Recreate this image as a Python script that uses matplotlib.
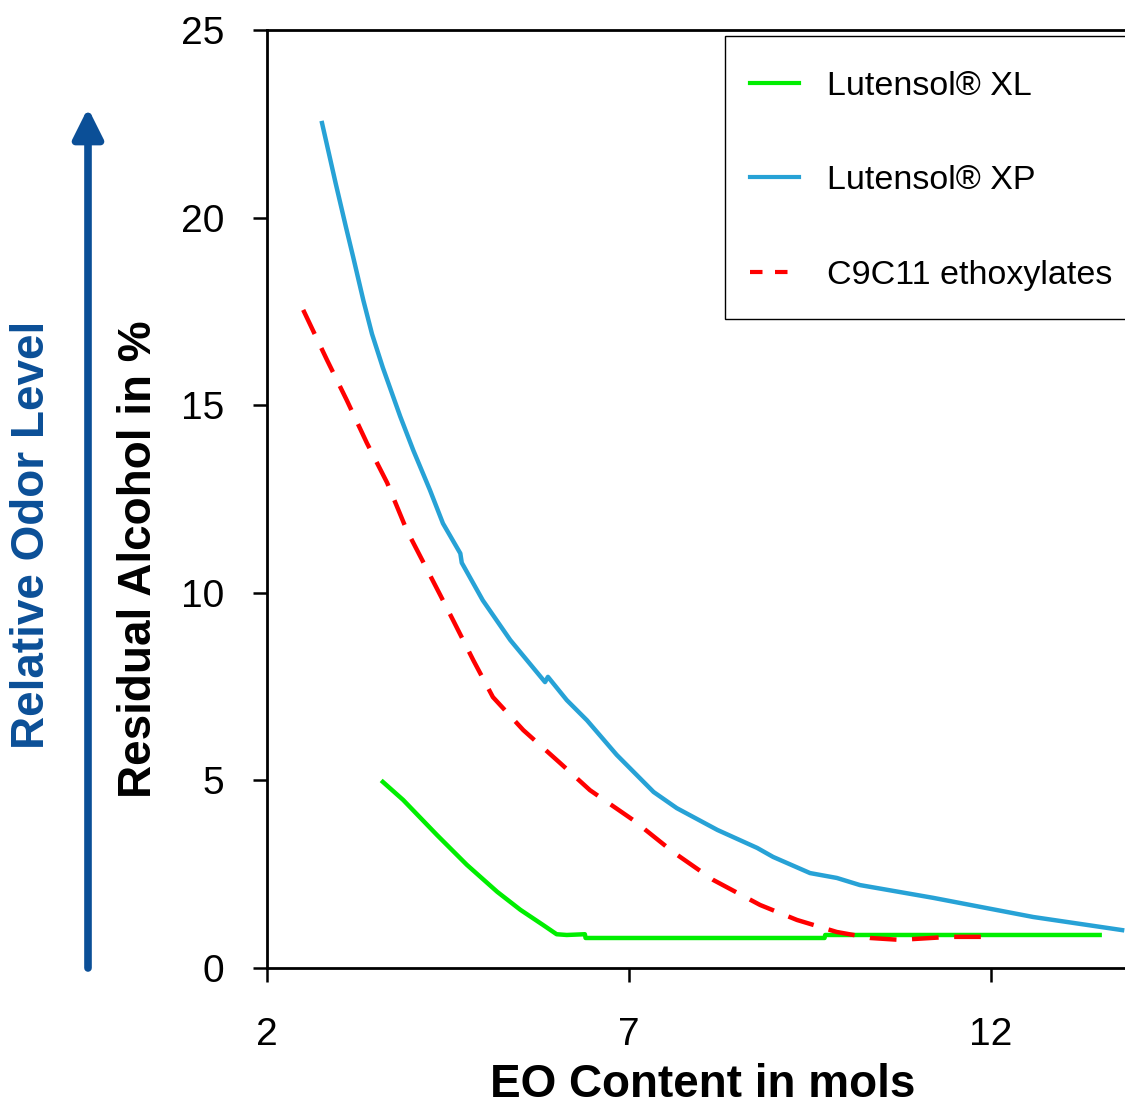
import matplotlib.pyplot as plt
from matplotlib.lines import Line2D
from matplotlib.patches import Rectangle

plt.rcParams['font.family'] = ['Liberation Sans', 'DejaVu Sans']

#-----------------------------------------------------------------------
# values

xl_eo = [3.6, 3.88, 4.35, 4.76, 5.18, 5.5, 5.81, 6.0, 6.14, 6.39,
         6.4, 9.7, 9.71, 13.5]
xl_res = [4.96, 4.48, 3.54, 2.75, 2.03, 1.55, 1.15, 0.9, 0.88, 0.9,
          0.8, 0.8, 0.88, 0.88]

xp_eo = [2.76, 2.95, 3.09, 3.19, 3.33, 3.45, 3.6, 3.84, 4.02, 4.25, 4.43,
         4.67, 4.69, 4.98, 5.36, 5.84, 5.88, 6.14, 6.42, 6.83, 7.34, 7.66,
         8.22, 8.77, 8.99, 9.5, 9.87, 10.19, 11.2, 12.58, 13.81]
xp_res = [22.52, 20.9, 19.75, 18.95, 17.8, 16.9, 16.0, 14.7, 13.8, 12.74, 11.85,
          11.05, 10.8, 9.8, 8.74, 7.62, 7.76, 7.14, 6.6, 5.68, 4.69, 4.26,
          3.68, 3.2, 2.96, 2.53, 2.4, 2.21, 1.87, 1.36, 1.01]

c911_eo = [2.5, 2.83, 3.1, 3.38, 3.66, 3.93, 4.39, 4.57, 4.85, 5.12, 5.54,
           6.05, 6.46, 7.06, 7.61, 8.16, 8.81, 9.32, 9.87, 10.33, 10.74,
           11.43, 12.01]
c911_res = [17.54, 16.2, 15.14, 13.99, 12.93, 11.67, 9.95, 9.27, 8.2, 7.22, 6.34,
            5.46, 4.74, 3.94, 3.09, 2.35, 1.68, 1.28, 0.96, 0.8, 0.75,
            0.83, 0.83]

x_ticks = [2, 7, 12]
y_ticks = [0, 5, 10, 15, 20, 25]

#-----------------------------------------------------------------------

green = '#00EE00'
light_blue = '#27A2D6'
red = '#FF0000'
dark_blue = '#0B4F97'

fig = plt.figure(figsize=(11.25, 11.06), dpi=100)
ax = fig.add_axes([267/1125, 1 - 968/1106, 1 - 267/1125, (968 - 30)/1106])

ax.plot(xl_eo, xl_res, color=green, lw=3.2)
ax.plot(xp_eo, xp_res, color=light_blue, lw=3.2)
ax.plot(c911_eo, c911_res, color=red, lw=3.2, dashes=(6, 3.5))

ax.set_xlim(2, 13.85)
ax.set_ylim(0, 25)
ax.set_xticks(x_ticks)
ax.set_yticks(y_ticks)
ax.tick_params(labelsize=28, length=10, width=1.8, direction='out')
ax.tick_params(axis='y', pad=21)
ax.tick_params(axis='x', pad=25)
for side in ['left', 'bottom', 'top']:
    ax.spines[side].set_linewidth(2)
ax.spines['right'].set_visible(False)

# legend box drawn separately, runs off the right edge like the original
fig.add_artist(Rectangle((725/1125, 1 - 319/1106), 0.5, (319 - 36)/1106,
                         transform=fig.transFigure, facecolor='white',
                         edgecolor='black', lw=1, zorder=3))

handles = [Line2D([], [], color=green, lw=3),
           Line2D([], [], color=light_blue, lw=3),
           Line2D([], [], color=red, lw=3, dashes=(3, 3))]
labels = ['Lutensol® XL', 'Lutensol® XP', 'C9C11 ethoxylates']
leg = fig.legend(handles, labels, loc='upper left',
                 bbox_to_anchor=(750/1125, 1 - 71/1106),
                 borderaxespad=0, fontsize=24.5, frameon=False,
                 labelspacing=1.86, handlelength=1.45, handletextpad=0.8,
                 borderpad=0)
leg.set_zorder(4)

fig.text(703/1125, 1 - 1085/1106, 'EO Content in mols', fontsize=33,
         fontweight='bold', ha='center', va='center')
fig.text(139/1125, 1 - 559/1106, 'Residual Alcohol in %', fontsize=33,
         fontweight='bold', rotation=90, ha='center', va='center')
fig.text(32/1125, 1 - 535/1106, 'Relative Odor Level', fontsize=33,
         fontweight='bold', rotation=90, ha='center', va='center', color=dark_blue)

# odor level arrow
fig.add_artist(plt.Annotation('', xy=(88/1125, 1 - 108/1106),
                              xytext=(88/1125, 1 - 968/1106),
                              xycoords='figure fraction',
                              arrowprops=dict(arrowstyle='-|>,head_length=0.9,head_width=0.45',
                                              mutation_scale=20, lw=5.5,
                                              color=dark_blue, shrinkA=0, shrinkB=0)))

fig.savefig('out.png', dpi=100)
